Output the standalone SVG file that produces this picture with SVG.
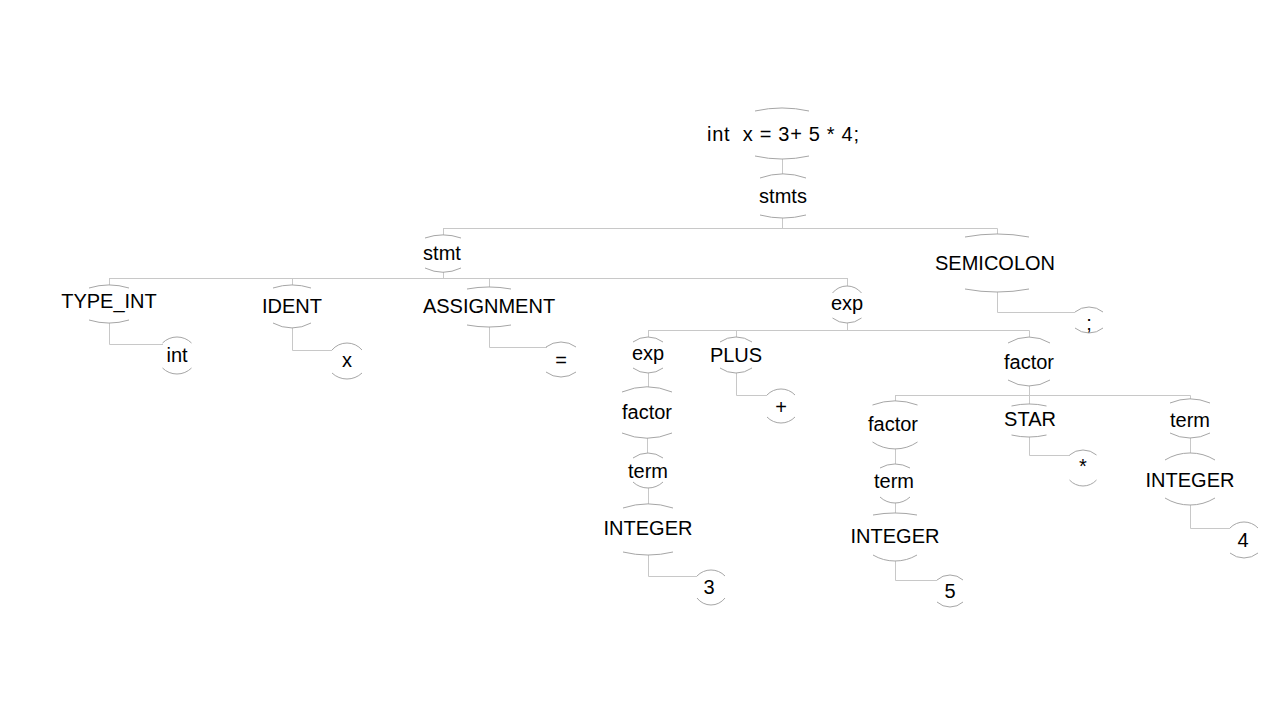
<svg xmlns="http://www.w3.org/2000/svg" width="1280" height="720" viewBox="0 0 1280 720">
<style>
.arc{fill:none;stroke:#a6a6a6;stroke-width:1}
.conn{fill:none;stroke:#c8c8c8;stroke-width:1}
text{font-family:"Liberation Sans",Arial,sans-serif;font-size:20px;fill:#000;text-anchor:middle}
</style>
<rect width="1280" height="720" fill="#ffffff"/>
<g id="connectors" class="conn">
<path d="M782.5,159 V174"/>
<path d="M782.5,218 V228.5 M443,228.5 H997.5 M443.5,228.5 V235 M997.5,228.5 V234"/>
<path d="M443.5,272 V278.5 M109,278.5 H848 M109.5,278.5 V285 M292.5,278.5 V285 M489.5,278.5 V287 M847.5,278.5 V286"/>
<path d="M109.5,323 V344.5 H163"/>
<path d="M292.5,328 V350.5 H332"/>
<path d="M489.5,327 V347.5 H547"/>
<path d="M997.5,292 V312.5 H1075"/>
<path d="M847.5,323 V330.5 M648,330.5 H1029.5 M648.5,330.5 V337 M736.5,330.5 V337 M1029.5,330.5 V337"/>
<path d="M648.5,373 V387"/>
<path d="M736.5,373 V395.5 H767"/>
<path d="M647.5,438 V453"/>
<path d="M648.5,488 V504"/>
<path d="M648.5,555 V576.5 H697"/>
<path d="M1029.5,386 V395.5 M895,395.5 H1190.5 M895.5,395.5 V401 M1029.5,395.5 V404 M1190.5,395.5 V399"/>
<path d="M895.5,449 V464"/>
<path d="M895.5,503 V513"/>
<path d="M895.5,561 V580.5 H937"/>
<path d="M1029.5,437 V455.5 H1070"/>
<path d="M1190.5,438 V453"/>
<path d="M1190.5,505 V528.5 H1230"/>
</g>
<g id="n-root"><path class="arc" d="M755,111 A123,123 0 0 1 809,111"/><path class="arc" d="M755,156 A123,123 0 0 0 809,156"/><text x="783" y="141" xml:space="preserve" style="white-space:pre" textLength="152" lengthAdjust="spacing">int  x = 3+ 5 * 4;</text></g>
<g id="n-stmts"><path class="arc" d="M760,178 A68,68 0 0 1 806,178"/><path class="arc" d="M760,215 A90,90 0 0 0 806,215"/><text x="783" y="203">stmts</text></g>
<g id="n-stmt"><path class="arc" d="M425,238 A55,55 0 0 1 461,238"/><path class="arc" d="M425,268 A42,42 0 0 0 461,268"/><text x="442" y="260">stmt</text></g>
<g id="n-semicolon"><path class="arc" d="M965,237 A172,172 0 0 1 1029,237"/><path class="arc" d="M965,289 A172,172 0 0 0 1029,289"/><text x="995" y="270">SEMICOLON</text></g>
<g id="n-type-int"><path class="arc" d="M89,288 A68,68 0 0 1 129,288"/><path class="arc" d="M89,320 A68,68 0 0 0 129,320"/><text x="109" y="308">TYPE_INT</text></g>
<g id="n-ident"><path class="arc" d="M273,288 A62,62 0 0 1 311,288"/><path class="arc" d="M273,323 A39,39 0 0 0 311,323"/><text x="292" y="313">IDENT</text></g>
<g id="n-assignment"><path class="arc" d="M467,289 A122,122 0 0 1 511,289"/><path class="arc" d="M467,325 A122,122 0 0 0 511,325"/><text x="489" y="313">ASSIGNMENT</text></g>
<g id="n-exp"><path class="arc" d="M832.5,293 A18.5,18.5 0 0 1 861.5,293"/><path class="arc" d="M832.5,318 A23.5,23.5 0 0 0 861.5,318"/><text x="847" y="310">exp</text></g>
<g id="n-int"><path class="arc" d="M162.5,343 A20.5,20.5 0 0 1 191.5,343"/><path class="arc" d="M162.5,368 A20.5,20.5 0 0 0 191.5,368"/><text x="177" y="362">int</text></g>
<g id="n-x"><path class="arc" d="M332,350 A19.6,19.6 0 0 1 362,350"/><path class="arc" d="M332,373 A21.75,21.75 0 0 0 362,373"/><text x="347" y="367">x</text></g>
<g id="n-eq"><path class="arc" d="M546,347 A25,25 0 0 1 576,347"/><path class="arc" d="M546,372 A25,25 0 0 0 576,372"/><text x="561" y="367">=</text></g>
<g id="n-exp2"><path class="arc" d="M633,342 A25,25 0 0 1 663,342"/><path class="arc" d="M633,368 A25,25 0 0 0 663,368"/><text x="648" y="360">exp</text></g>
<g id="n-plus"><path class="arc" d="M720,342 A28,28 0 0 1 752,342"/><path class="arc" d="M720,368 A28,28 0 0 0 752,368"/><text x="736" y="362">PLUS</text></g>
<g id="n-factor-r"><path class="arc" d="M1008,343 A40,40 0 0 1 1050,343"/><path class="arc" d="M1008,380 A40,40 0 0 0 1050,380"/><text x="1029" y="369">factor</text></g>
<g id="n-plus-leaf"><path class="arc" d="M767,395 A19.3,19.3 0 0 1 795,395"/><path class="arc" d="M767,417 A19.3,19.3 0 0 0 795,417"/><text x="781" y="414">+</text></g>
<g id="n-factor-l"><path class="arc" d="M622,392 A65,65 0 0 1 672,392"/><path class="arc" d="M622,433 A65,65 0 0 0 672,433"/><text x="647" y="419">factor</text></g>
<g id="n-term-l"><path class="arc" d="M633,458 A25,25 0 0 1 663,458"/><path class="arc" d="M633,482 A21.75,21.75 0 0 0 663,482"/><text x="648" y="478">term</text></g>
<g id="n-integer-l"><path class="arc" d="M623,508 A80,80 0 0 1 673,508"/><path class="arc" d="M623,552 A106,106 0 0 0 673,552"/><text x="648" y="535">INTEGER</text></g>
<g id="n-3"><path class="arc" d="M697,576 A19.3,19.3 0 0 1 725,576"/><path class="arc" d="M697,598 A17.5,17.5 0 0 0 725,598"/><text x="709" y="594">3</text></g>
<g id="n-factor-m"><path class="arc" d="M872.5,405 A65,65 0 0 1 917.5,405"/><path class="arc" d="M872.5,442 A40,40 0 0 0 917.5,442"/><text x="893" y="431">factor</text></g>
<g id="n-star"><path class="arc" d="M1011.5,406 A77.5,77.5 0 0 1 1046.5,406"/><path class="arc" d="M1011.5,435 A77.5,77.5 0 0 0 1046.5,435"/><text x="1030" y="426">STAR</text></g>
<g id="n-term-r"><path class="arc" d="M1170,403 A52,52 0 0 1 1210,403"/><path class="arc" d="M1170,433 A42.5,42.5 0 0 0 1210,433"/><text x="1190" y="427">term</text></g>
<g id="n-term-m"><path class="arc" d="M880,468 A30,30 0 0 1 910,468"/><path class="arc" d="M880,497 A21.75,21.75 0 0 0 910,497"/><text x="894" y="488">term</text></g>
<g id="n-star-leaf"><path class="arc" d="M1069.5,455 A20.7,20.7 0 0 1 1096.5,455"/><path class="arc" d="M1069.5,480 A18.2,18.2 0 0 0 1096.5,480"/><text x="1083" y="473">*</text></g>
<g id="n-integer-r"><path class="arc" d="M1165,460 A48,48 0 0 1 1215,460"/><path class="arc" d="M1165,498 A48,48 0 0 0 1215,498"/><text x="1190" y="487">INTEGER</text></g>
<g id="n-integer-m"><path class="arc" d="M873,515 A122,122 0 0 1 917,515"/><path class="arc" d="M873,555 A43.3,43.3 0 0 0 917,555"/><text x="895" y="543">INTEGER</text></g>
<g id="n-5"><path class="arc" d="M937,580 A19.4,19.4 0 0 1 963,580"/><path class="arc" d="M937,602 A19.4,19.4 0 0 0 963,602"/><text x="950" y="598">5</text></g>
<g id="n-4"><path class="arc" d="M1230,528 A19.3,19.3 0 0 1 1258,528"/><path class="arc" d="M1230,553 A22.1,22.1 0 0 0 1258,553"/><text x="1243" y="547">4</text></g>
<g id="n-semi-leaf"><path class="arc" d="M1075,312 A22.1,22.1 0 0 1 1103,312"/><path class="arc" d="M1075,328 A22.1,22.1 0 0 0 1103,328"/><text x="1089" y="330">;</text></g>
</svg>
